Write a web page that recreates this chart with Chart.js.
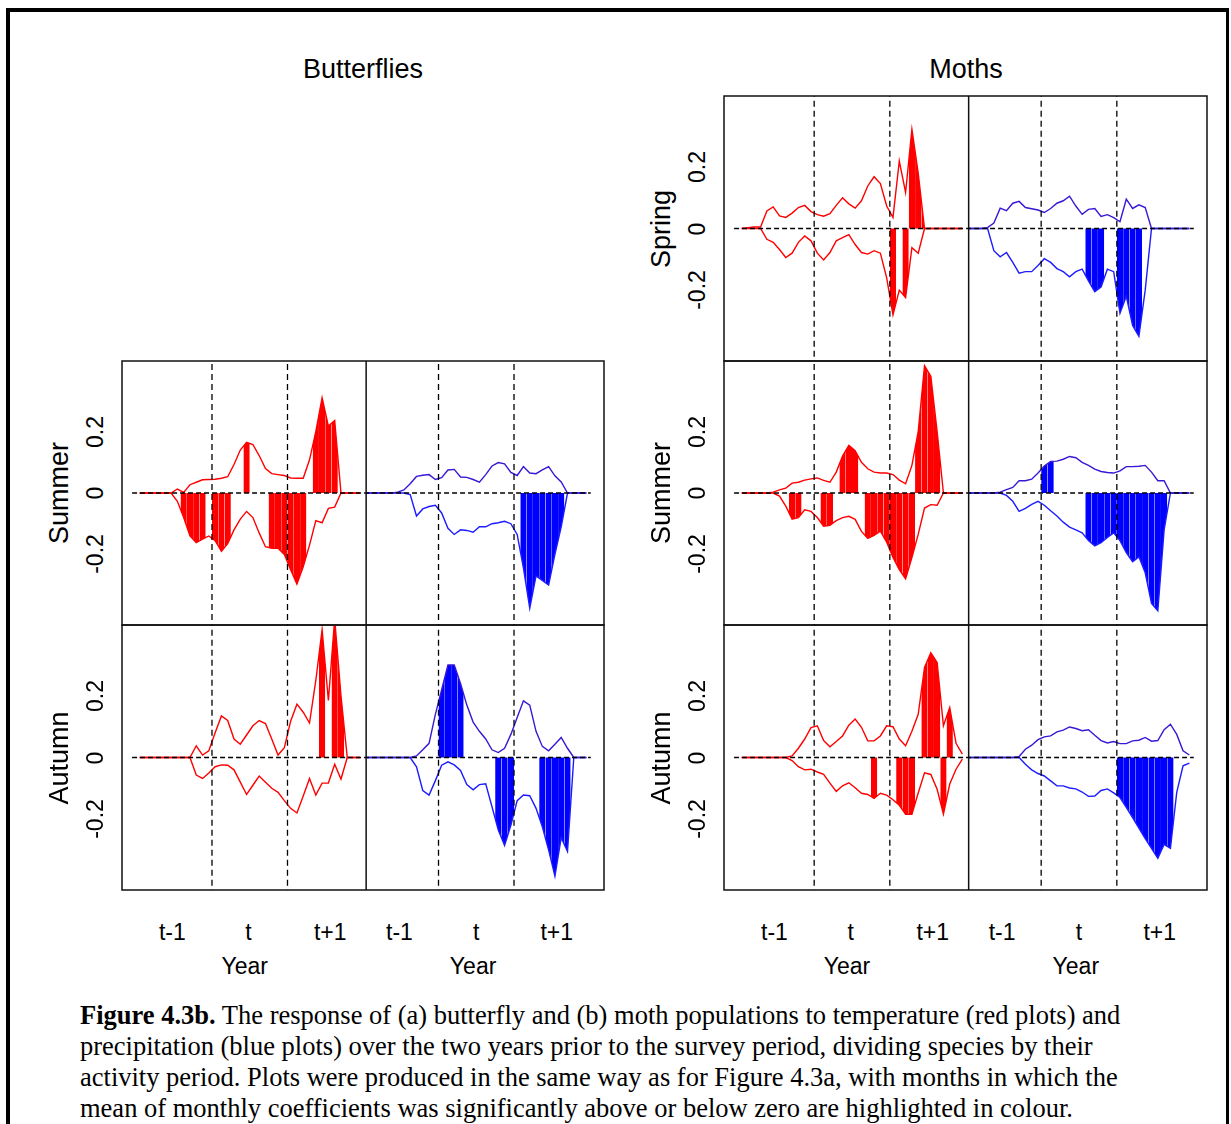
<!DOCTYPE html>
<html>
<head>
<meta charset="utf-8">
<script src="https://cdn.jsdelivr.net/npm/chart.js@4.4.1/dist/chart.umd.min.js"></script>
<style>
  html, body { margin: 0; padding: 0; background: #fff; }
  body { width: 1231px; height: 1124px; position: relative; overflow: hidden; font-family: "Liberation Sans", Arial, sans-serif; color: #000; }
  #frame { position: absolute; left: 6px; top: 8px; width: 1216px; height: 1300px; border-left: 4px solid #000; border-top: 4px solid #000; border-right: 3px solid #000; }
  canvas { position: absolute; }
  .lbl { position: absolute; white-space: nowrap; line-height: 1; transform: translate(-50%, -50%); }
  .rot { transform: translate(-50%, -50%) rotate(-90deg); }
  #caption { position: absolute; left: 80px; top: 1000px; font-family: "Liberation Serif", "Times New Roman", serif; font-size: 26.5px; line-height: 31px; white-space: nowrap; }
</style>
</head>
<body>
<div id="frame"></div>
<div id="caption"><b>Figure 4.3b.</b> The response of (a) butterfly and (b) moth populations to temperature (red plots) and<br>precipitation (blue plots) over the two years prior to the survey period, dividing species by their<br>activity period. Plots were produced in the same way as for Figure 4.3a, with months in which the<br>mean of monthly coefficients was significantly above or below zero are highlighted in colour.</div>
<script>
// month axis: red panel uses months 0..36, blue panel the same months shifted by 36
var BLUE_SHIFT = 36;
var X_MIN = -2.3, X_MAX = 74.3;
var Y_MIN = -0.43, Y_MAX = 0.43;
var yearBounds = [12, 24, 48, 60];
var dividerAt = 36.5;
var zeroSpan = [-0.7, 72.2];
var yTickValues = [0.2, 0, -0.2];
var yTickLabels = ['0.2', '0', '-0.2'];
var xTickPos = [5.7, 17.8, 30.8, 41.8, 54.0, 66.8];
var xTickLabels = ['t-1', 't', 't+1', 't-1', 't', 't+1'];
var yearPos = [17.2, 53.5];

var months = [];
for (var m = 0; m < 36; m++) months.push(m + 0.5);

// ---- Butterflies, Summer ----
var bfSummerRedUp = [0, 0, 0, 0, 0, 0, 0.013, 0.002, 0.027, 0.035, 0.043, 0.044, 0.045, 0.048, 0.053, 0.093, 0.14, 0.165, 0.158, 0.122, 0.08, 0.063, 0.06, 0.057, 0.049, 0.048, 0.048, 0.108, 0.2, 0.31, 0.218, 0.236, 0, 0, 0, 0];
var bfSummerRedLo = [0, 0, 0, 0, 0, 0, -0.027, -0.08, -0.14, -0.162, -0.15, -0.14, -0.155, -0.19, -0.165, -0.12, -0.085, -0.06, -0.08, -0.13, -0.175, -0.18, -0.18, -0.2, -0.25, -0.297, -0.24, -0.17, -0.09, -0.097, -0.05, -0.046, 0, 0, 0, 0];
var bfSummerRedSigUp = [17, 28, 29, 30, 31];
var bfSummerRedSigLo = [7, 8, 9, 10, 12, 13, 14, 21, 22, 23, 24, 25, 26];
var bfSummerBlueUp = [0, 0, 0, 0, 0, 0.003, 0.01, 0.03, 0.054, 0.058, 0.06, 0.044, 0.05, 0.075, 0.077, 0.052, 0.051, 0.044, 0.035, 0.06, 0.088, 0.099, 0.095, 0.067, 0.057, 0.086, 0.065, 0.063, 0.075, 0.086, 0.056, 0.036, 0, 0, 0, 0];
var bfSummerBlueLo = [0, 0, 0, 0, 0, 0, 0, -0.005, -0.075, -0.052, -0.044, -0.04, -0.065, -0.115, -0.135, -0.12, -0.122, -0.128, -0.11, -0.11, -0.1, -0.097, -0.092, -0.1, -0.135, -0.245, -0.375, -0.27, -0.285, -0.3, -0.2, -0.11, 0, 0, 0, 0];
var bfSummerBlueSigUp = [];
var bfSummerBlueSigLo = [25, 26, 27, 28, 29, 30, 31];

// ---- Butterflies, Autumn ----
var bfAutumnRedUp = [0, 0, 0, 0, 0, 0, 0, 0, 0, 0.038, 0.008, 0.022, 0.08, 0.135, 0.12, 0.06, 0.043, 0.073, 0.103, 0.12, 0.11, 0.06, 0.008, 0.032, 0.118, 0.173, 0.147, 0.112, 0.25, 0.415, 0.185, 0.45, 0.2, 0, 0, 0];
var bfAutumnRedLo = [0, 0, 0, 0, 0, 0, 0, 0, 0, -0.057, -0.068, -0.05, -0.03, -0.024, -0.025, -0.04, -0.08, -0.12, -0.09, -0.06, -0.08, -0.1, -0.113, -0.14, -0.165, -0.18, -0.125, -0.068, -0.122, -0.083, -0.083, -0.022, -0.07, 0, 0, 0];
var bfAutumnRedSigUp = [29, 31, 32];
var bfAutumnRedSigLo = [];
var bfAutumnBlueUp = [0, 0, 0, 0, 0, 0, 0, 0, 0.005, 0.025, 0.046, 0.14, 0.22, 0.3, 0.3, 0.24, 0.17, 0.115, 0.085, 0.06, 0.025, 0.016, 0.03, 0.075, 0.13, 0.184, 0.17, 0.085, 0.036, 0.022, 0.043, 0.065, 0.03, 0, 0, 0];
var bfAutumnBlueLo = [0, 0, 0, 0, 0, 0, 0, 0, -0.03, -0.107, -0.122, -0.075, -0.025, -0.014, -0.024, -0.042, -0.088, -0.105, -0.088, -0.085, -0.16, -0.235, -0.285, -0.22, -0.14, -0.122, -0.124, -0.165, -0.225, -0.3, -0.385, -0.26, -0.305, 0, 0, 0];
var bfAutumnBlueSigUp = [12, 13, 14, 15];
var bfAutumnBlueSigLo = [21, 22, 23, 28, 29, 30, 31, 32];

// ---- Moths, Spring ----
var mSpringRedUp = [0, 0.003, 0.005, 0.005, 0.057, 0.07, 0.041, 0.036, 0.05, 0.068, 0.075, 0.055, 0.045, 0.04, 0.048, 0.075, 0.1, 0.08, 0.066, 0.09, 0.138, 0.168, 0.146, 0.073, 0.036, 0.219, 0.117, 0.322, 0.18, 0, 0, 0, 0, 0, 0, 0];
var mSpringRedLo = [0, 0, 0, 0, -0.035, -0.045, -0.068, -0.094, -0.08, -0.045, -0.024, -0.04, -0.08, -0.102, -0.078, -0.04, -0.03, -0.02, -0.052, -0.078, -0.083, -0.072, -0.08, -0.16, -0.28, -0.2, -0.224, -0.062, -0.08, 0, 0, 0, 0, 0, 0, 0];
var mSpringRedSigUp = [27, 28, 29];
var mSpringRedSigLo = [24, 26];
var mSpringBlueUp = [0, 0, 0, 0.003, 0.018, 0.066, 0.058, 0.082, 0.088, 0.068, 0.064, 0.06, 0.052, 0.065, 0.082, 0.09, 0.105, 0.073, 0.046, 0.062, 0.065, 0.039, 0.045, 0.035, 0.022, 0.095, 0.065, 0.077, 0.068, 0, 0, 0, 0, 0, 0, 0];
var mSpringBlueLo = [0, 0, 0, 0, -0.072, -0.092, -0.078, -0.11, -0.145, -0.14, -0.14, -0.12, -0.098, -0.11, -0.13, -0.14, -0.157, -0.14, -0.132, -0.17, -0.205, -0.19, -0.132, -0.14, -0.275, -0.22, -0.315, -0.35, -0.2, 0, 0, 0, 0, 0, 0, 0];
var mSpringBlueSigUp = [];
var mSpringBlueSigLo = [19, 20, 21, 24, 25, 26, 27];

// ---- Moths, Summer ----
var mSummerRedUp = [0, 0, 0, 0, 0, 0.003, 0.01, 0.016, 0.032, 0.035, 0.042, 0.046, 0.049, 0.041, 0.035, 0.068, 0.12, 0.155, 0.138, 0.1, 0.079, 0.068, 0.065, 0.065, 0.06, 0.042, 0.03, 0.09, 0.2, 0.415, 0.38, 0.2, 0, 0, 0, 0];
var mSummerRedLo = [0, 0, 0, 0, 0, 0, -0.01, -0.043, -0.085, -0.08, -0.055, -0.06, -0.08, -0.108, -0.105, -0.09, -0.08, -0.076, -0.086, -0.125, -0.148, -0.138, -0.124, -0.16, -0.21, -0.25, -0.28, -0.21, -0.135, -0.049, -0.038, -0.04, 0, 0, 0, 0];
var mSummerRedSigUp = [16, 17, 18, 28, 29, 30, 31];
var mSummerRedSigLo = [8, 9, 13, 14, 20, 21, 22, 23, 24, 25, 26, 27];
var mSummerBlueUp = [0, 0, 0, 0, 0, 0.003, 0.011, 0.018, 0.04, 0.04, 0.045, 0.065, 0.088, 0.103, 0.104, 0.11, 0.119, 0.115, 0.1, 0.09, 0.078, 0.07, 0.067, 0.065, 0.072, 0.086, 0.086, 0.087, 0.09, 0.068, 0.04, 0.04, 0, 0, 0, 0];
var mSummerBlueLo = [0, 0, 0, 0, 0, 0, -0.008, -0.027, -0.06, -0.05, -0.037, -0.027, -0.04, -0.058, -0.075, -0.095, -0.111, -0.12, -0.13, -0.155, -0.172, -0.162, -0.145, -0.13, -0.155, -0.194, -0.224, -0.208, -0.26, -0.36, -0.384, -0.12, 0, 0, 0, 0];
var mSummerBlueSigUp = [12, 13];
var mSummerBlueSigLo = [19, 20, 21, 22, 23, 24, 25, 26, 27, 28, 29, 30, 31];

// ---- Moths, Autumn ----
var mAutumnRedUp = [0, 0, 0, 0, 0, 0, 0, 0, 0.005, 0.03, 0.06, 0.097, 0.103, 0.055, 0.035, 0.052, 0.07, 0.105, 0.125, 0.098, 0.054, 0.054, 0.07, 0.103, 0.1, 0.06, 0.038, 0.085, 0.14, 0.292, 0.34, 0.308, 0.103, 0.162, 0.046, 0.011];
var mAutumnRedLo = [0, 0, 0, 0, 0, 0, 0, 0, -0.01, -0.03, -0.04, -0.038, -0.047, -0.055, -0.083, -0.11, -0.092, -0.082, -0.098, -0.116, -0.12, -0.133, -0.116, -0.122, -0.137, -0.155, -0.184, -0.184, -0.115, -0.05, -0.055, -0.103, -0.184, -0.086, -0.038, -0.005];
var mAutumnRedSigUp = [29, 30, 31, 33];
var mAutumnRedSigLo = [21, 25, 26, 27, 32];
var mAutumnBlueUp = [0, 0, 0, 0, 0, 0, 0, 0, 0.003, 0.027, 0.04, 0.058, 0.067, 0.07, 0.083, 0.089, 0.099, 0.094, 0.087, 0.09, 0.072, 0.055, 0.047, 0.052, 0.045, 0.045, 0.054, 0.056, 0.065, 0.053, 0.055, 0.09, 0.108, 0.075, 0.022, 0.008];
var mAutumnBlueLo = [0, 0, 0, 0, 0, 0, 0, 0, 0, -0.022, -0.04, -0.052, -0.06, -0.076, -0.092, -0.092, -0.099, -0.102, -0.112, -0.126, -0.125, -0.107, -0.102, -0.115, -0.13, -0.162, -0.195, -0.229, -0.263, -0.295, -0.327, -0.282, -0.295, -0.113, -0.027, -0.018];
var mAutumnBlueSigUp = [];
var mAutumnBlueSigLo = [24, 25, 26, 27, 28, 29, 30, 31, 32];

var RED = '#ff0000';
var BLUE_UP = '#3a16d6';
var BLUE_LO = '#1c1cff';
var BLUE_FILL = '#0000ff';
var PAD = 2;

var panels = [
  { left: 122, top: 361, width: 482, height: 264, row: 'Summer', axis: false,
    red: [bfSummerRedUp, bfSummerRedLo, bfSummerRedSigUp, bfSummerRedSigLo],
    blue: [bfSummerBlueUp, bfSummerBlueLo, bfSummerBlueSigUp, bfSummerBlueSigLo] },
  { left: 122, top: 625, width: 482, height: 265, row: 'Autumn', axis: true,
    red: [bfAutumnRedUp, bfAutumnRedLo, bfAutumnRedSigUp, bfAutumnRedSigLo],
    blue: [bfAutumnBlueUp, bfAutumnBlueLo, bfAutumnBlueSigUp, bfAutumnBlueSigLo] },
  { left: 724, top: 96, width: 483, height: 265, row: 'Spring', axis: false,
    red: [mSpringRedUp, mSpringRedLo, mSpringRedSigUp, mSpringRedSigLo],
    blue: [mSpringBlueUp, mSpringBlueLo, mSpringBlueSigUp, mSpringBlueSigLo] },
  { left: 724, top: 361, width: 483, height: 264, row: 'Summer', axis: false,
    red: [mSummerRedUp, mSummerRedLo, mSummerRedSigUp, mSummerRedSigLo],
    blue: [mSummerBlueUp, mSummerBlueLo, mSummerBlueSigUp, mSummerBlueSigLo] },
  { left: 724, top: 625, width: 483, height: 265, row: 'Autumn', axis: true,
    red: [mAutumnRedUp, mAutumnRedLo, mAutumnRedSigUp, mAutumnRedSigLo],
    blue: [mAutumnBlueUp, mAutumnBlueLo, mAutumnBlueSigUp, mAutumnBlueSigLo] }
];

function toPoints(vals, shift) {
  return vals.map(function(v, i) { return { x: months[i] + shift, y: v }; });
}

// one filled polygon per significant month, following the drawn line between month edges
function monthFill(vals, i, shift, color) {
  var prev = i > 0 ? vals[i - 1] : vals[i];
  var next = i < vals.length - 1 ? vals[i + 1] : vals[i];
  return {
    data: [
      { x: shift + i, y: (prev + vals[i]) / 2 },
      { x: shift + months[i], y: vals[i] },
      { x: shift + i + 1, y: (vals[i] + next) / 2 }
    ],
    borderColor: 'rgba(0,0,0,0)', borderWidth: 0,
    backgroundColor: color, fill: 'origin', order: 3
  };
}

function seriesSets(set, shift, upColor, loColor, fillColor) {
  var out = [];
  set[2].forEach(function(i) { out.push(monthFill(set[0], i, shift, fillColor)); });
  set[3].forEach(function(i) { out.push(monthFill(set[1], i, shift, fillColor)); });
  out.push({ data: toPoints(set[0], shift), borderColor: upColor, borderWidth: 1.4, fill: false, order: 2 });
  out.push({ data: toPoints(set[1], shift), borderColor: loColor, borderWidth: 1.4, fill: false, order: 2 });
  return out;
}

var guideData = [];
yearBounds.forEach(function(x) {
  guideData.push({ x: x, y: -1 }, { x: x, y: 1 }, { x: x, y: null });
});

var panelFrame = {
  id: 'panelFrame',
  afterDraw: function(chart) {
    var a = chart.chartArea, ctx = chart.ctx;
    var xd = chart.scales.x.getPixelForValue(dividerAt);
    ctx.save();
    ctx.strokeStyle = '#111';
    ctx.lineWidth = 1.5;
    ctx.strokeRect(a.left, a.top, a.right - a.left, a.bottom - a.top);
    ctx.beginPath();
    ctx.moveTo(xd, a.top);
    ctx.lineTo(xd, a.bottom);
    ctx.stroke();
    ctx.restore();
  }
};

function addText(txt, x, y, size, rotated) {
  var el = document.createElement('div');
  el.className = rotated ? 'lbl rot' : 'lbl';
  el.style.left = x + 'px';
  el.style.top = y + 'px';
  el.style.fontSize = size + 'px';
  el.textContent = txt;
  document.body.appendChild(el);
}

panels.forEach(function(p) {
  var canvas = document.createElement('canvas');
  canvas.width = p.width + PAD * 2;
  canvas.height = p.height + PAD * 2;
  var cx = p.left - PAD, cy = p.top - PAD;
  canvas.style.left = cx + 'px';
  canvas.style.top = cy + 'px';
  document.body.appendChild(canvas);

  var datasets = [
    { data: [{ x: zeroSpan[0], y: 0 }, { x: zeroSpan[1], y: 0 }], borderColor: '#000', borderWidth: 1.4, borderDash: [5, 3], fill: false, order: 0 },
    { data: guideData, borderColor: '#000', borderWidth: 1.3, borderDash: [6, 4], fill: false, spanGaps: false, order: 1 }
  ];
  datasets = datasets.concat(seriesSets(p.red, 0, RED, RED, RED));
  datasets = datasets.concat(seriesSets(p.blue, BLUE_SHIFT, BLUE_UP, BLUE_LO, BLUE_FILL));

  var chart = new Chart(canvas.getContext('2d'), {
    type: 'line',
    data: { datasets: datasets },
    options: {
      responsive: false,
      animation: false,
      devicePixelRatio: 1,
      layout: { padding: PAD },
      elements: { point: { radius: 0, hoverRadius: 0 }, line: { tension: 0 } },
      plugins: { legend: { display: false }, tooltip: { enabled: false } },
      events: [],
      scales: {
        x: { type: 'linear', min: X_MIN, max: X_MAX, display: false },
        y: { type: 'linear', min: Y_MIN, max: Y_MAX, display: false }
      }
    },
    plugins: [panelFrame]
  });

  var a = chart.chartArea;
  yTickValues.forEach(function(v, k) {
    addText(yTickLabels[k], p.left - 27, cy + chart.scales.y.getPixelForValue(v), 23, true);
  });
  addText(p.row, p.left - 63, cy + (a.top + a.bottom) / 2, 27, true);

  if (p.axis) {
    xTickPos.forEach(function(v, k) {
      addText(xTickLabels[k], cx + chart.scales.x.getPixelForValue(v), cy + a.bottom + 42, 23, false);
    });
    yearPos.forEach(function(v) {
      addText('Year', cx + chart.scales.x.getPixelForValue(v), cy + a.bottom + 76, 23, false);
    });
  }
});

addText('Butterflies', 363, 69, 27, false);
addText('Moths', 966, 69, 27, false);
</script>
</body>
</html>
